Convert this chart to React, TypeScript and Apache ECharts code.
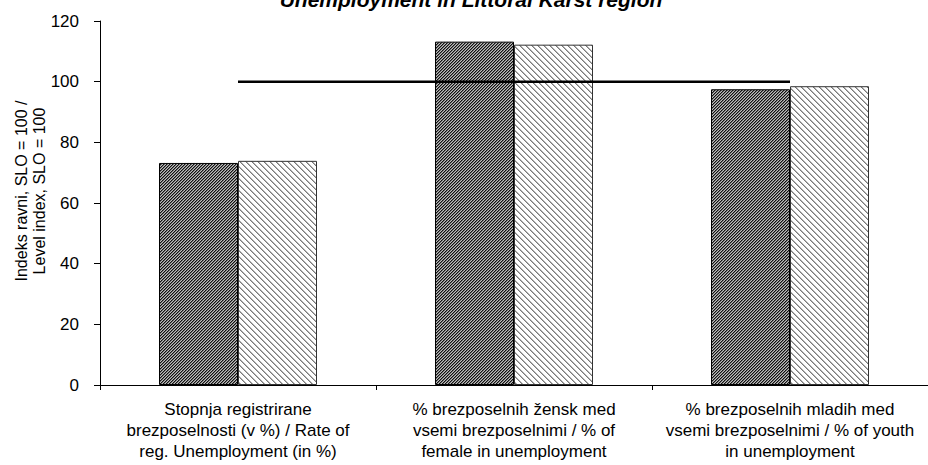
import React, { useEffect, useRef } from "react";
import * as echarts from "echarts";

const categories = [
  "Stopnja registrirane\nbrezposelnosti (v %) / Rate of\nreg. Unemployment (in %)",
  "% brezposelnih žensk med\nvsemi brezposelnimi / % of\nfemale in unemployment",
  "% brezposelnih mladih med\nvsemi brezposelnimi / % of youth\nin unemployment",
];
const seriesA = [73.2, 113.2, 97.5];
const seriesB = [73.9, 112.2, 98.5];
const referenceLine = [100, 100, 100];
const yTicks = { min: 0, max: 120, interval: 20 };
const titleText = "Unemployment in Littoral Karst region";
const yName = "Indeks ravni, SLO = 100 /\nLevel index, SLO = 100";

function makeTile(size: number, pick: (x: number, y: number) => string) {
  const c = document.createElement("canvas");
  c.width = size;
  c.height = size;
  const ctx = c.getContext("2d")!;
  for (let y = 0; y < size; y++) {
    for (let x = 0; x < size; x++) {
      ctx.fillStyle = pick(x, y);
      ctx.fillRect(x, y, 1, 1);
    }
  }
  return c;
}

export default function App() {
  const ref = useRef<HTMLDivElement>(null);
  useEffect(() => {
    if (!ref.current) return;
    const chart = echarts.init(ref.current, undefined, { renderer: "svg" });
    const darkTile = makeTile(3, (x, y) => {
      const k = (x + y) % 3;
      return k === 0 ? "#111111" : k === 1 ? "#6e6e6e" : "#bdbdbd";
    });
    const lightTile = makeTile(6, (x, y) => {
      const k = (x - y + 12) % 6;
      return k === 0 ? "#7a7a7a" : k === 1 ? "#b4b4b4" : "#ffffff";
    });
    const font = "'Liberation Sans', Arial, Helvetica, sans-serif";
    chart.setOption({
      animation: false,
      backgroundColor: "#ffffff",
      textStyle: { fontFamily: font, color: "#000" },
      grid: { left: 100, top: 21, width: 831, height: 364 },
      xAxis: {
        type: "category",
        data: categories,
        axisLine: { lineStyle: { color: "#000", width: 1 } },
        axisTick: { show: true, length: 5, lineStyle: { color: "#000" }, interval: 0 },
        axisLabel: {
          interval: 0,
          margin: 14,
          fontSize: 17,
          lineHeight: 21,
          color: "#000",
          fontFamily: font,
        },
      },
      yAxis: {
        type: "value",
        min: yTicks.min,
        max: yTicks.max,
        interval: yTicks.interval,
        splitLine: { show: false },
        axisLine: { show: true, lineStyle: { color: "#000", width: 1 } },
        axisTick: { show: true, length: 6, lineStyle: { color: "#000" } },
        axisLabel: { fontSize: 17, color: "#000", margin: 21, fontFamily: font },
      },
      graphic: [
        {
          type: "text",
          x: 471,
          y: -1,
          style: {
            text: titleText,
            font: `italic bold 21px ${font}`,
            fill: "#000",
            align: "center",
            verticalAlign: "middle",
          },
        },
        {
          type: "text",
          x: 30,
          y: 191,
          rotation: Math.PI / 2,
          style: {
            text: yName,
            font: `16px ${font}`,
            lineHeight: 18,
            fill: "#000",
            align: "center",
            verticalAlign: "middle",
          },
        },
      ],
      series: [
        {
          type: "bar",
          data: seriesA,
          barWidth: 79,
          barGap: "0%",
          itemStyle: {
            color: { image: darkTile, repeat: "repeat", imageWidth: 3, imageHeight: 3 } as any,
            borderColor: "#000",
            borderWidth: 1,
          },
        },
        {
          type: "bar",
          data: seriesB,
          barWidth: 79,
          barGap: "0%",
          itemStyle: {
            color: { image: lightTile, repeat: "repeat", imageWidth: 6, imageHeight: 6 } as any,
            borderColor: "#333",
            borderWidth: 1,
          },
        },
        {
          type: "line",
          data: referenceLine,
          symbol: "none",
          z: 5,
          lineStyle: { color: "#000", width: 2.5 },
        },
      ],
    });
    return () => chart.dispose();
  }, []);
  return <div ref={ref} style={{ width: 928, height: 465, position: "absolute", left: 0, top: 0 }} />;
}
